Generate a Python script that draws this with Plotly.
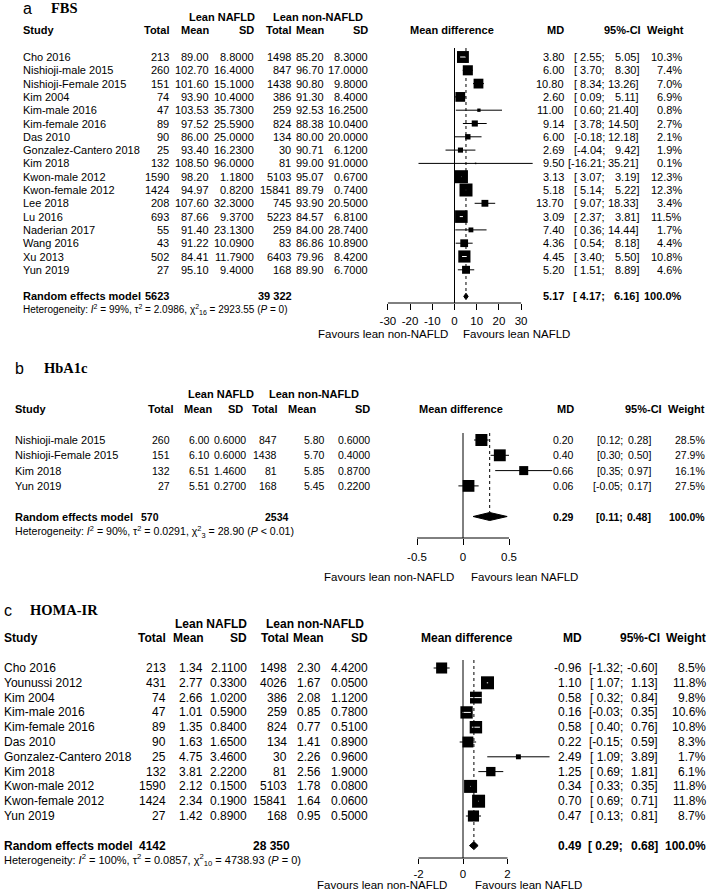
import plotly.graph_objects as go

W, H = 709, 895
SANS = "Liberation Sans, Arial, sans-serif"
SERIF = "Liberation Serif, Times New Roman, serif"

# ---------------- data: panel a (FBS) ----------------
studies_a = ["Cho 2016", "Nishioji-male 2015", "Nishioji-Female 2015", "Kim 2004", "Kim-male 2016",
             "Kim-female 2016", "Das 2010", "Gonzalez-Cantero 2018", "Kim 2018", "Kwon-male 2012",
             "Kwon-female 2012", "Lee 2018", "Lu 2016", "Naderian 2017", "Wang 2016", "Xu 2013", "Yun 2019"]
total1_a = [213, 260, 151, 74, 47, 89, 90, 25, 132, 1590, 1424, 208, 693, 55, 43, 502, 27]
mean1_a = [89.00, 102.70, 101.60, 93.90, 103.53, 97.52, 86.00, 93.40, 108.50, 98.20, 94.97, 107.60, 87.66, 91.40, 91.22, 84.41, 95.10]
sd1_a = [8.8, 16.4, 15.1, 10.4, 35.73, 25.59, 25.0, 16.23, 96.0, 1.18, 0.82, 32.3, 9.37, 23.13, 10.09, 11.79, 9.4]
total2_a = [1498, 847, 1438, 386, 259, 824, 134, 30, 81, 5103, 15841, 745, 5223, 259, 83, 6403, 168]
mean2_a = [85.20, 96.70, 90.80, 91.30, 92.53, 88.38, 80.00, 90.71, 99.00, 95.07, 89.79, 93.90, 84.57, 84.00, 86.86, 79.96, 89.90]
sd2_a = [8.3, 17.0, 9.8, 8.4, 16.25, 10.04, 20.0, 6.12, 91.0, 0.67, 0.74, 20.5, 6.81, 28.74, 10.89, 8.42, 6.7]
md_a = [3.80, 6.00, 10.80, 2.60, 11.00, 9.14, 6.00, 2.69, 9.50, 3.13, 5.18, 13.70, 3.09, 7.40, 4.36, 4.45, 5.20]
lo_a = [2.55, 3.70, 8.34, 0.09, 0.60, 3.78, -0.18, -4.04, -16.21, 3.07, 5.14, 9.07, 2.37, 0.36, 0.54, 3.40, 1.51]
hi_a = [5.05, 8.30, 13.26, 5.11, 21.40, 14.50, 12.18, 9.42, 35.21, 3.19, 5.22, 18.33, 3.81, 14.44, 8.18, 5.50, 8.89]
w_a = [10.3, 7.4, 7.0, 6.9, 0.8, 2.7, 2.1, 1.9, 0.1, 12.3, 12.3, 3.4, 11.5, 1.7, 4.4, 10.8, 4.6]
pooled_a = [5.17, 4.17, 6.16]
sum_totals_a = [5623, 39322]
het_a = ["99%", "2.0986", "16", "2923.55", "<i>P</i> = 0"]
ticks_a = [-30, -20, -10, 0, 10, 20, 30]

# ---------------- data: panel b (HbA1c) ----------------
studies_b = ["Nishioji-male 2015", "Nishioji-Female 2015", "Kim 2018", "Yun 2019"]
total1_b = [260, 151, 132, 27]
mean1_b = [6.00, 6.10, 6.51, 5.51]
sd1_b = [0.6, 0.6, 1.46, 0.27]
total2_b = [847, 1438, 81, 168]
mean2_b = [5.80, 5.70, 5.85, 5.45]
sd2_b = [0.6, 0.4, 0.87, 0.22]
md_b = [0.20, 0.40, 0.66, 0.06]
lo_b = [0.12, 0.30, 0.35, -0.05]
hi_b = [0.28, 0.50, 0.97, 0.17]
w_b = [28.5, 27.9, 16.1, 27.5]
pooled_b = [0.29, 0.11, 0.48]
sum_totals_b = [570, 2534]
het_b = ["90%", "0.0291", "3", "28.90", "<i>P</i> &lt; 0.01"]
ticks_b = [-0.5, 0, 0.5]
ticktext_b = ["-0.5", "0", "0.5"]

# ---------------- data: panel c (HOMA-IR) ----------------
studies_c = ["Cho 2016", "Younussi 2012", "Kim 2004", "Kim-male 2016", "Kim-female 2016", "Das 2010",
             "Gonzalez-Cantero 2018", "Kim 2018", "Kwon-male 2012", "Kwon-female 2012", "Yun 2019"]
total1_c = [213, 431, 74, 47, 89, 90, 25, 132, 1590, 1424, 27]
mean1_c = [1.34, 2.77, 2.66, 1.01, 1.35, 1.63, 4.75, 3.81, 2.12, 2.34, 1.42]
sd1_c = [2.11, 0.33, 1.02, 0.59, 0.84, 1.65, 3.46, 2.22, 0.15, 0.19, 0.89]
total2_c = [1498, 4026, 386, 259, 824, 134, 30, 81, 5103, 15841, 168]
mean2_c = [2.30, 1.67, 2.08, 0.85, 0.77, 1.41, 2.26, 2.56, 1.78, 1.64, 0.95]
sd2_c = [4.42, 0.05, 1.12, 0.78, 0.51, 0.89, 0.96, 1.90, 0.08, 0.06, 0.50]
md_c = [-0.96, 1.10, 0.58, 0.16, 0.58, 0.22, 2.49, 1.25, 0.34, 0.70, 0.47]
lo_c = [-1.32, 1.07, 0.32, -0.03, 0.40, -0.15, 1.09, 0.69, 0.33, 0.69, 0.13]
hi_c = [-0.60, 1.13, 0.84, 0.35, 0.76, 0.59, 3.89, 1.81, 0.35, 0.71, 0.81]
w_c = [8.5, 11.8, 9.8, 10.6, 10.8, 8.3, 1.7, 6.1, 11.8, 11.8, 8.7]
pooled_c = [0.49, 0.29, 0.68]
sum_totals_c = [4142, 28350]
het_c = ["100%", "0.0857", "10", "4738.93", "<i>P</i> = 0"]
ticks_c = [-2, 0, 2]

# ---------------- layout parameters (pixels) ----------------
panels = [
    dict(letter="a", title="FBS", ax="", top=0, bottom=345, y0=57, dy=13.3, zero=454.5, k=2.22,
         font=SANS, fs=11, nfs=11, hfs=11, hetfs=10, axis_px=303, zero_top=48, diam_h=3.2, sq=13,
         studies=studies_a, t1=total1_a, m1=mean1_a, s1=sd1_a, t2=total2_a, m2=mean2_a, s2=sd2_a,
         md=md_a, lo=lo_a, hi=hi_a, w=w_a, pooled=pooled_a, tot=sum_totals_a, het=het_a,
         ticks=ticks_a, ticktext=[str(t) for t in ticks_a], tickfs=11.5, standoff=1, ticklen=6,
         letter_x=22, title_x=50, title_row=-3.68, lean_row=-3, head_row=-2, rand_row=18,
         col_study=22, c_t1=170, c_m1=210, c_s1=255, c_t2=292, c_m2=325, c_s2=369,
         h_t1=170, h_m1=210, h_s1=255, h_t2=292, h_m2=325, h_s2=369,
         lean1=222, lean2=318, mdhead=452, c_md=565, c_semi=606, c_ci=640, h_ci=642, c_w=683, h_w=685,
         r_t1=170, r_t2=293, ci_pad=True, fav_px=334, fav1=383, fav2=516),
    dict(letter="b", title="HbA1c", ax="2", top=345, bottom=590, y0=440, dy=15.3, zero=463, k=92,
         font=SANS, fs=10.5, nfs=11, hfs=11, hetfs=10.6, axis_px=538, zero_top=433, diam_h=4, sq=12,
         studies=studies_b, t1=total1_b, m1=mean1_b, s1=sd1_b, t2=total2_b, m2=mean2_b, s2=sd2_b,
         md=md_b, lo=lo_b, hi=hi_b, w=w_b, pooled=pooled_b, tot=sum_totals_b, het=het_b,
         ticks=ticks_b, ticktext=ticktext_b, tickfs=11.5, standoff=2, ticklen=6,
         letter_x=14, title_x=43, title_row=-4.7, lean_row=-3, head_row=-2, rand_row=5,
         col_study=14, c_t1=171, c_m1=211, c_s1=247, c_t2=278, c_m2=326, c_s2=371,
         h_t1=174, h_m1=213, h_s1=244, h_t2=278, h_m2=317, h_s2=371,
         lean1=221, lean2=314, mdhead=461, c_md=575, c_semi=624, c_ci=652, h_ci=663, c_w=706, h_w=706,
         r_t1=160, r_t2=290, ci_pad=False, fav_px=577, fav1=389, fav2=524),
    dict(letter="c", title="HOMA-IR", ax="3", top=590, bottom=895, y0=668, dy=14.8, zero=463, k=22.25,
         font=SANS, fs=12, nfs=12, hfs=12, hetfs=11, axis_px=858, zero_top=660, diam_h=4, sq=13,
         studies=studies_c, t1=total1_c, m1=mean1_c, s1=sd1_c, t2=total2_c, m2=mean2_c, s2=sd2_c,
         md=md_c, lo=lo_c, hi=hi_c, w=w_c, pooled=pooled_c, tot=sum_totals_c, het=het_c,
         ticks=ticks_c, ticktext=[str(t) for t in ticks_c], tickfs=11.5, standoff=0, ticklen=5,
         letter_x=3, title_x=29, title_row=-3.9, lean_row=-3, head_row=-2, rand_row=12,
         col_study=3, c_t1=167, c_m1=204, c_s1=248, c_t2=288, c_m2=322, c_s2=369,
         h_t1=167, h_m1=205, h_s1=248, h_t2=290, h_m2=325, h_s2=369,
         lean1=211, lean2=315, mdhead=467, c_md=583, c_semi=624, c_ci=659, h_ci=661, c_w=707, h_w=707,
         r_t1=167, r_t2=291, ci_pad=True, fav_px=885, fav1=382, fav2=528),
]

FX0, FX1 = 360, 565  # forest x-domain in pixels

fig = go.Figure()


def fmt_total(n):
    return f"{n:,}".replace(",", " ") if n >= 10000 else str(n)


def txt(px, row, s, yref, anchor="right", size=11, family=SANS, bold=False):
    if bold:
        s = f"<b>{s}</b>"
    fig.add_annotation(x=px / W, y=row, xref="paper", yref=yref, text=s, showarrow=False,
                       xanchor=anchor, yanchor="middle", borderpad=0,
                       font=dict(size=size, family=family, color="black"))


for p in panels:
    ax = p["ax"]
    xr, yr = "x" + ax, "y" + ax
    y0, dy, k, zero = p["y0"], p["dy"], p["k"], p["zero"]
    row_of = lambda px: (px - y0) / dy
    fs, nfs, hfs, fam = p["fs"], p["nfs"], p["hfs"], p["font"]
    n = len(p["studies"])
    rows = list(range(n))

    # axes
    fig.update_layout(**{
        "xaxis" + ax: dict(domain=[FX0 / W, FX1 / W], range=[(FX0 - zero) / k, (FX1 - zero) / k],
                           anchor="free", position=1 - p["axis_px"] / H, showline=False,
                           showgrid=False, zeroline=False, ticks="outside", ticklen=p["ticklen"],
                           tickwidth=1, tickcolor="black", tickvals=p["ticks"], ticktext=p["ticktext"],
                           ticklabelstandoff=p["standoff"],
                           tickfont=dict(size=p["tickfs"], family=SANS, color="black")),
        "yaxis" + ax: dict(domain=[1 - p["bottom"] / H, 1 - p["top"] / H],
                           range=[row_of(p["bottom"]), row_of(p["top"])], visible=False,
                           anchor=xr),
    })

    # squares with CIs
    md, lo, hi, w = p["md"], p["lo"], p["hi"], p["w"]
    wmax = max(w)
    sizes = [max(1.5, p["sq"] * (wi / wmax) ** 0.5) for wi in w]
    fig.add_trace(go.Scatter(
        x=md, y=rows, mode="markers", xaxis=xr, yaxis=yr, cliponaxis=False,
        marker=dict(symbol="square", size=sizes, color="black", opacity=1, line=dict(width=0)),
        error_x=dict(type="data", symmetric=False, array=[h - m for h, m in zip(hi, md)],
                     arrayminus=[m - l for m, l in zip(md, lo)], thickness=1, width=0, color="black"),
        hoverinfo="skip"))
    # white CI segment inside squares when CI is narrower than square
    wx, wy = [], []
    for r, m, l, h, s in zip(rows, md, lo, hi, sizes):
        half = s / 2 / k
        if l > m - half and h < m + half:
            wx += [l, h, None]
            wy += [r, r, None]
    if wx:
        fig.add_trace(go.Scatter(x=wx, y=wy, mode="lines", xaxis=xr, yaxis=yr, cliponaxis=False,
                                 line=dict(color="white", width=1), hoverinfo="skip"))

    # diamond
    pm, pl, ph = p["pooled"]
    rr = p["rand_row"]
    hh = p["diam_h"] / dy
    fig.add_trace(go.Scatter(x=[pl, pm, ph, pm, pl], y=[rr, rr - hh, rr, rr + hh, rr], mode="lines",
                             fill="toself", fillcolor="black", line=dict(color="black", width=1),
                             xaxis=xr, yaxis=yr, cliponaxis=False, hoverinfo="skip"))

    # reference lines
    ztop = row_of(p["zero_top"])
    arow = row_of(p["axis_px"])
    fig.add_shape(type="line", xref=xr, yref=yr, x0=0, x1=0, y0=ztop, y1=arow,
                  line=dict(color="black", width=1))
    fig.add_shape(type="line", xref=xr, yref=yr, x0=pm, x1=pm, y0=ztop, y1=rr - hh,
                  line=dict(color="black", width=1, dash="dot"))
    fig.add_shape(type="line", xref=xr, yref=yr, x0=min(p["ticks"]), x1=max(p["ticks"]), y0=arow, y1=arow,
                  line=dict(color="black", width=1))

    # titles
    txt(p["letter_x"], p["title_row"], p["letter"], yr, anchor="left", size=16, family=SANS)
    txt(p["title_x"], p["title_row"], p["title"], yr, anchor="left", size=14.5, family=SERIF, bold=True)
    txt(p["lean1"], p["lean_row"], "Lean NAFLD", yr, anchor="center", size=hfs, family=fam, bold=True)
    txt(p["lean2"], p["lean_row"], "Lean non-NAFLD", yr, anchor="center", size=hfs, family=fam, bold=True)
    hr = p["head_row"]
    txt(p["col_study"], hr, "Study", yr, anchor="left", size=hfs, family=fam, bold=True)
    for key, lab in [("h_t1", "Total"), ("h_m1", "Mean"), ("h_s1", "SD"), ("h_t2", "Total"),
                     ("h_m2", "Mean"), ("h_s2", "SD"), ("c_md", "MD"), ("h_ci", "95%-CI"), ("h_w", "Weight")]:
        txt(p[key], hr, lab, yr, size=hfs, family=fam, bold=True)
    txt(p["mdhead"], hr, "Mean difference", yr, anchor="center", size=hfs, family=fam, bold=True)

    # study rows
    pad = "\u00a0" if p["ci_pad"] else ""
    for i in range(n):
        txt(p["col_study"], i, p["studies"][i], yr, anchor="left", size=nfs, family=fam)
        txt(p["c_t1"], i, str(p["t1"][i]), yr, size=fs, family=fam)
        txt(p["c_m1"], i, f"{p['m1'][i]:.2f}", yr, size=fs, family=fam)
        txt(p["c_s1"], i, f"{p['s1'][i]:.4f}", yr, size=fs, family=fam)
        txt(p["c_t2"], i, str(p["t2"][i]), yr, size=fs, family=fam)
        txt(p["c_m2"], i, f"{p['m2'][i]:.2f}", yr, size=fs, family=fam)
        txt(p["c_s2"], i, f"{p['s2'][i]:.4f}", yr, size=fs, family=fam)
        txt(p["c_md"], i, f"{md[i]:.2f}", yr, size=fs, family=fam)
        lpad = pad if lo[i] >= 0 else ""
        txt(p["c_semi"], i, f"[{lpad}{lo[i]:.2f};", yr, size=fs, family=fam)
        txt(p["c_ci"], i, f"{hi[i]:.2f}]", yr, size=fs, family=fam)
        txt(p["c_w"], i, f"{w[i]:.1f}%", yr, size=fs, family=fam)

    # summary row
    txt(p["col_study"], rr, "Random effects model", yr, anchor="left", size=nfs, family=fam, bold=True)
    txt(p["r_t1"], rr, fmt_total(p["tot"][0]), yr, size=fs, family=fam, bold=True)
    txt(p["r_t2"], rr, fmt_total(p["tot"][1]), yr, size=fs, family=fam, bold=True)
    txt(p["c_md"], rr, f"{pm:.2f}", yr, size=fs, family=fam, bold=True)
    txt(p["c_semi"], rr, f"[{pad if pl >= 0 else ''}{pl:.2f};", yr, size=fs, family=fam, bold=True)
    txt(p["c_ci"], rr, f"{ph:.2f}]", yr, size=fs, family=fam, bold=True)
    txt(p["c_w"], rr, "100.0%", yr, size=fs, family=fam, bold=True)

    i2, tau2, df, q, pv = p["het"]
    het = (f"Heterogeneity: <i>I</i><sup>2</sup> = {i2}, τ<sup>2</sup> = {tau2}, "
           f"χ<sup>2</sup><sub>{df}</sub> = {q} ({pv})")
    txt(p["col_study"], rr + 1, het, yr, anchor="left", size=p["hetfs"], family=fam)

    # favours labels
    fr = row_of(p["fav_px"])
    txt(p["fav1"], fr, "Favours lean non-NAFLD", yr, anchor="center", size=11.5, family=SANS)
    txt(p["fav2"], fr, "Favours lean NAFLD", yr, anchor="center", size=11.5, family=SANS)

fig.update_layout(width=W, height=H, margin=dict(l=0, r=0, t=0, b=0), showlegend=False,
                  plot_bgcolor="white", paper_bgcolor="white")
fig.write_html("out.html", config={"displayModeBar": False},
               post_script="document.body.style.margin='0';document.body.style.overflow='hidden';")
